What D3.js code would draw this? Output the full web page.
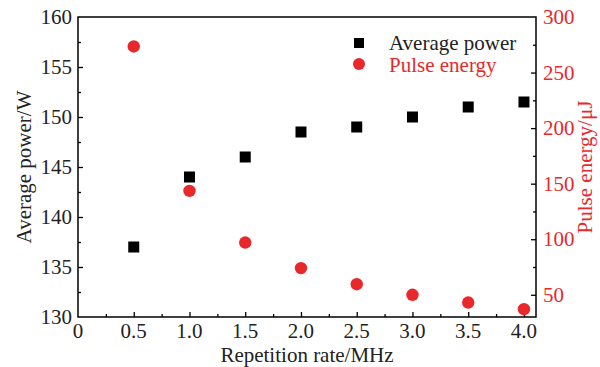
<!DOCTYPE html>
<html><head><meta charset="utf-8">
<script src="https://cdn.jsdelivr.net/npm/d3@7"></script>
<style>body{margin:0;background:#fff}svg{display:block}text{font-family:"Liberation Serif","Times New Roman",serif}</style>
</head><body><svg id="c" width="600" height="367"></svg>
<script>
const rates = [0.5, 1.0, 1.5, 2.0, 2.5, 3.0, 3.5, 4.0];
const avgPower = [137, 144, 146, 148.5, 149, 150, 151, 151.5];
const pulseEnergy = [273.5, 143.5, 97, 74, 59.5, 50, 43, 37];
const xTicks = [0, 0.5, 1.0, 1.5, 2.0, 2.5, 3.0, 3.5, 4.0];
const yLeftTicks = [130, 135, 140, 145, 150, 155, 160];
const yRightTicks = [50, 100, 150, 200, 250, 300];
const RED = "#e8282b";

const svg = d3.select("#c");
const L = 78, R = 536, T = 17, B = 317;
const x = d3.scaleLinear().domain([0, 4.108]).range([L, R]);
const yl = d3.scaleLinear().domain([130, 160]).range([B, T]);
const yr = d3.scaleLinear().domain([30, 300]).range([B, T]);

// frame
svg.append("rect").attr("x", L).attr("y", T).attr("width", R - L).attr("height", B - T)
  .attr("fill", "none").attr("stroke", "#000").attr("stroke-width", 1.5);

const fs = 21;
// x axis
const xa = svg.append("g").attr("transform", `translate(0,${B})`);
xa.call(d3.axisBottom(x).tickValues(d3.range(0, 4.01, 0.25)).tickSize(-3).tickFormat(""))
  .call(g => g.select(".domain").remove());
xa.selectAll(".tick line").attr("stroke", "#000").attr("stroke-width", 1.3)
  .attr("y2", (d) => (Math.abs(d * 2 - Math.round(d * 2)) < 1e-6 ? -5 : -3));
xa.selectAll(".tick").filter(d => d === 0).remove();
svg.append("g").selectAll("text").data(xTicks).join("text")
  .attr("x", d => x(d)).attr("y", 338).attr("text-anchor", "middle")
  .attr("font-size", fs).attr("fill", "#222")
  .text(d => d === 0 ? "0" : d3.format(".1f")(d));

// left axis
const la = svg.append("g").attr("transform", `translate(${L},0)`);
la.call(d3.axisLeft(yl).tickValues(d3.range(130, 160.01, 2.5)).tickSize(-3).tickFormat(""))
  .call(g => g.select(".domain").remove());
la.selectAll(".tick line").attr("stroke", "#000").attr("stroke-width", 1.3)
  .attr("x2", d => (d % 5 === 0 ? 5 : 3));
la.selectAll(".tick").filter(d => d === 130 || d === 160).remove();
svg.append("g").selectAll("text").data(yLeftTicks).join("text")
  .attr("x", 72).attr("y", d => yl(d) + 7).attr("text-anchor", "end")
  .attr("font-size", fs).attr("fill", "#222").text(d => d);

// right axis
const ra = svg.append("g").attr("transform", `translate(${R},0)`);
ra.call(d3.axisRight(yr).tickValues(d3.range(50, 300.01, 25)).tickSize(-3).tickFormat(""))
  .call(g => g.select(".domain").remove());
ra.selectAll(".tick line").attr("stroke", "#000").attr("stroke-width", 1.3)
  .attr("x2", d => (d % 50 === 0 ? -5 : -3));
ra.selectAll(".tick").filter(d => d === 300).remove();
svg.append("g").selectAll("text").data(yRightTicks).join("text")
  .attr("x", 543).attr("y", d => yr(d) + 7).attr("text-anchor", "start")
  .attr("font-size", fs).attr("fill", RED).text(d => d);

// titles
svg.append("text").attr("x", 307).attr("y", 362).attr("text-anchor", "middle")
  .attr("font-size", fs).attr("fill", "#222").text("Repetition rate/MHz");
svg.append("text").attr("transform", `translate(31,${(T + B) / 2}) rotate(-90)`)
  .attr("text-anchor", "middle").attr("font-size", fs).attr("fill", "#222").text("Average power/W");
svg.append("text").attr("transform", `translate(592,${(T + B) / 2}) rotate(-90)`)
  .attr("text-anchor", "middle").attr("font-size", fs).attr("fill", RED).text("Pulse energy/μJ");

// data
const pts = rates.map((r, i) => ({ r, p: avgPower[i], e: pulseEnergy[i] }));
svg.append("g").selectAll("rect").data(pts).join("rect")
  .attr("x", d => x(d.r) - 5.5).attr("y", d => yl(d.p) - 5.5)
  .attr("width", 11).attr("height", 11).attr("fill", "#000");
svg.append("g").selectAll("circle").data(pts).join("circle")
  .attr("cx", d => x(d.r)).attr("cy", d => yr(d.e)).attr("r", 6.2).attr("fill", RED);

// legend
const lg = svg.append("g");
lg.append("rect").attr("x", 354).attr("y", 38).attr("width", 10).attr("height", 10).attr("fill", "#000");
lg.append("circle").attr("cx", 359).attr("cy", 64).attr("r", 6).attr("fill", RED);
lg.append("text").attr("x", 389).attr("y", 50).attr("font-size", fs).attr("fill", "#222").text("Average power");
lg.append("text").attr("x", 389).attr("y", 72).attr("font-size", fs).attr("fill", RED).text("Pulse energy");
</script></body></html>
